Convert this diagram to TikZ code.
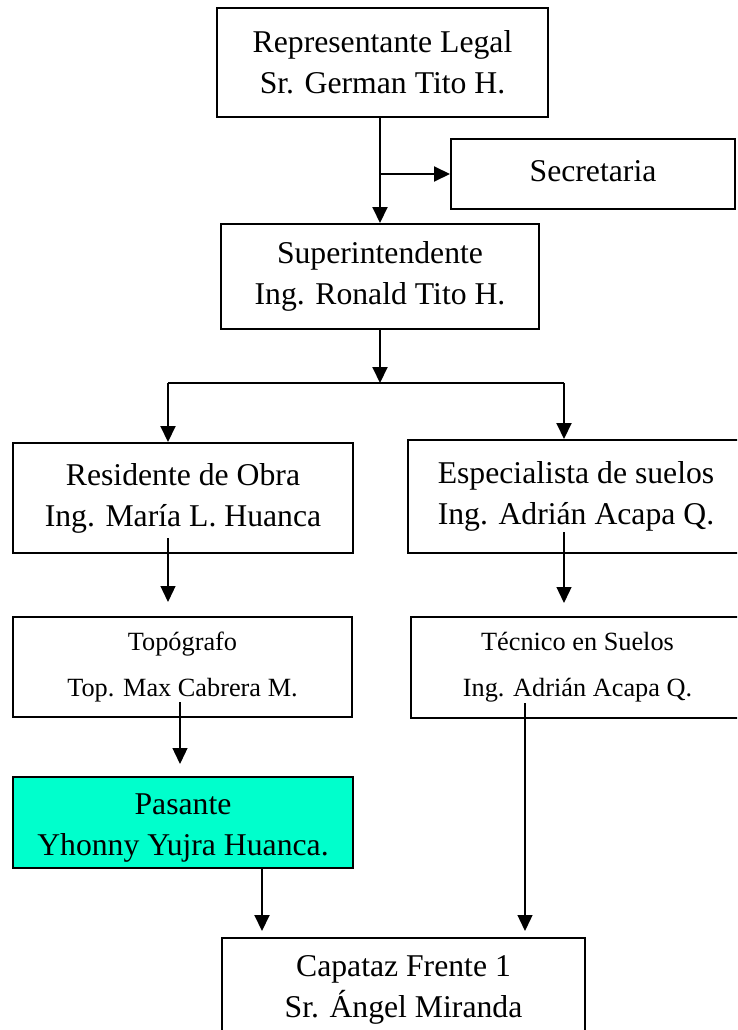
\documentclass[tikz,border=0pt]{standalone}
\usepackage{fontspec}
\setmainfont{Liberation Serif}
\usetikzlibrary{arrows.meta}
\definecolor{pasfill}{RGB}{0,255,204}
\tikzset{
  box/.style={draw=black, line width=2pt, rectangle, inner sep=0pt, align=center,
              font=\fontsize{31.7}{41}\selectfont},
  smallbox/.style={box, font=\fontsize{26.3}{46}\selectfont},
  conn/.style={line width=2pt, -{Triangle[width=15pt,length=16pt]}},
  thinconn/.style={line width=1.3pt, -{Triangle[width=15pt,length=16pt]}},
  plain/.style={line width=2pt}
}
\begin{document}
\begin{tikzpicture}[x=1pt,y=-1pt]
\useasboundingbox (0,0) rectangle (737,1030);
\clip (0,0) rectangle (737,1030);
\fill[white] (0,0) rectangle (737,1030);

% boxes
\node[box, minimum width=331pt, minimum height=109pt] (rep) at (382.5,62.5)
  {Representante Legal\\Sr. German Tito H.};
\node[box, minimum width=284pt, minimum height=70pt, text height=22pt, text depth=7pt] (sec) at (593,174)
  {Secretaria};
\node[box, minimum width=318pt, minimum height=105pt] (sup) at (380,276.5)
  {Superintendente\\Ing. Ronald Tito H.};
\node[box, minimum width=340pt, minimum height=110pt] (res) at (183,498)
  {Residente de Obra\\Ing. María L. Huanca};
\node[box, minimum width=336pt, minimum height=113pt] (esp) at (576,496.5)
  {Especialista de suelos\\Ing. Adrián Acapa Q.};
\node[smallbox, minimum width=339pt, minimum height=100pt] (topo) at (182.5,667)
  {Topógrafo\\Top. Max Cabrera M.};
\node[smallbox, minimum width=333pt, minimum height=101pt] (tec) at (577.5,667.5)
  {Técnico en Suelos\\Ing. Adrián Acapa Q.};
\node[box, fill=pasfill, minimum width=340pt, minimum height=91pt] (pas) at (183,822.5)
  {\rule{0pt}{32pt}Pasante\\Yhonny Yujra Huanca.};
\node[box, minimum width=363pt, minimum height=103pt] (cap) at (403.5,989.5)
  {Capataz Frente 1\\Sr. Ángel Miranda};

% connector coordinates
\coordinate (jc) at (380,383);
\coordinate (jl) at (168,383);
\coordinate (jr) at (564,383);
\coordinate (r1) at (168,538);
\coordinate (r2) at (168,602);
\coordinate (e1) at (564,532);
\coordinate (e2) at (564,603);
\coordinate (t1) at (180,702);
\coordinate (t2) at (180,764);
\coordinate (p2) at (262,931);
\coordinate (c1) at (525,703);
\coordinate (c2) at (525,931);

% connectors
\draw[conn] (rep.south -| sup.north) -- (sup.north);
\draw[conn] (sec.west -| sup.north) -- (sec.west);
\draw[conn] (sup.south) -- (jc);
\draw[plain] (jl) -- (jr);
\draw[conn] (jl) -- (jl |- res.north);
\draw[conn] (jr) -- (jr |- esp.north);
\draw[thinconn] (r1) -- (r2);
\draw[thinconn] (e1) -- (e2);
\draw[thinconn] (t1) -- (t2);
\draw[conn] (pas.south -| p2) -- (p2);
\draw[thinconn] (c1) -- (c2);
\end{tikzpicture}
\end{document}
